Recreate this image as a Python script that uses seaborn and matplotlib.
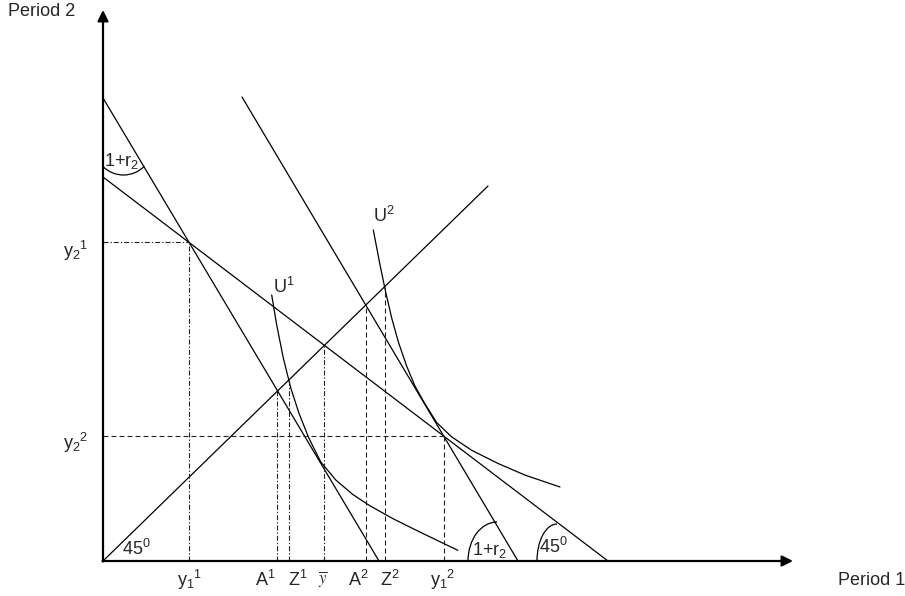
import numpy as np
import pandas as pd
import matplotlib
matplotlib.use("Agg")
import matplotlib.pyplot as plt
from matplotlib.patches import Arc
import seaborn as sns

# budget lines and the 45 degree line (x, y end points, origin at axes corner)
steep1_x = [0, 276]
steep1_y = [463, 0]
flat_x = [0, 505]
flat_y = [384, 0]
steep2_x = [139, 415]
steep2_y = [464, 0]
diag_x = [0, 385]
diag_y = [0, 375]

# indifference curves
u1_x = [168.7, 173.7, 180.3, 187.8, 195.8, 205.8, 217.8, 232.8, 249.8, 266.8, 289.8, 316.8, 354.8]
u1_y = [266, 236, 203, 173, 148.2, 123, 99, 81, 66.5, 55.3, 42.4, 29, 10.7]
u2_x = [270.3, 277, 282.7, 288.7, 295.3, 303.7, 312, 322, 333.7, 348.7, 368.7, 395.3, 422, 457]
u2_y = [331, 296.2, 268.8, 243, 219.2, 194.8, 174.9, 157, 138.4, 124.1, 110.7, 97.4, 85.9, 74]

# guide lines down to the horizontal axis
guide_x = [86, 174, 186, 221, 263, 282, 341]
guide_top = [319, 170, 181, 216, 256, 274, 125]
guide_dashdot = [True, True, True, True, False, False, False]
# guide lines across to the vertical axis
level_y = [319, 125]
level_end = [86, 341]
level_dashdot = [True, False]

x_labels = ['y$_1$$^1$', 'A$^1$', 'Z$^1$', r'$\overline{y}$', 'A$^2$', 'Z$^2$', 'y$_1$$^2$']
y_labels = ['y$_2$$^1$', 'y$_2$$^2$']

sns.set_theme(style="white")
plt.rcParams['font.family'] = ['Liberation Sans', 'DejaVu Sans']
plt.rcParams['mathtext.fontset'] = 'custom'
plt.rcParams['mathtext.rm'] = 'Liberation Sans'
plt.rcParams['mathtext.it'] = 'Liberation Sans:italic'

fig = plt.figure(figsize=(9.05, 5.96), dpi=100)
ax = fig.add_axes([0, 0, 1, 1])
ax.set_xlim(-103, 802)
ax.set_ylim(-35, 561)
ax.axis('off')

lw = 0.9
for xs, ys in [(steep1_x, steep1_y), (flat_x, flat_y), (steep2_x, steep2_y),
               (diag_x, diag_y), (u1_x, u1_y), (u2_x, u2_y)]:
    sns.lineplot(x=xs, y=ys, ax=ax, color='black', linewidth=lw,
                 sort=False, estimator=None)

dash = (0, (4.5, 2.7))
dashdot = (0, (4.5, 1.8, 1.2, 1.8))
for gx, gt, dd in zip(guide_x, guide_top, guide_dashdot):
    ax.plot([gx, gx], [0, gt], color='#222222', lw=0.8, ls=dashdot if dd else dash)
for ly, le, dd in zip(level_y, level_end, level_dashdot):
    ax.plot([0, le], [ly, ly], color='#222222', lw=0.8, ls=dashdot if dd else dash)

# axes with arrow heads
arrow = dict(arrowstyle='-|>', color='black', lw=1.6, mutation_scale=16,
             shrinkA=0, shrinkB=0)
ax.annotate('', xy=(0, 551), xytext=(0, -0.5), arrowprops=arrow)
ax.annotate('', xy=(690, 0), xytext=(-0.5, 0), arrowprops=arrow)

# angle arcs
ax.add_patch(Arc((20.5, 415), 58, 58, theta1=225, theta2=316, color='black', lw=lw))
ax.add_patch(Arc((394, 0), 58, 78, theta1=90, theta2=180, color='black', lw=lw))
ax.add_patch(Arc((454, 0), 40, 74, theta1=90, theta2=180, color='black', lw=lw))

fs = 13
ax.text(-95, 545, 'Period 2', fontsize=fs, va='baseline')
ax.text(735, -24, 'Period 1', fontsize=fs, va='baseline')

x_label_left = [74, 152, 185, 215, 245, 277, 327]
for lab, lx in zip(x_labels, x_label_left):
    if 'overline' in lab:
        ax.text(lx, -22, lab, fontsize=12, va='baseline', math_fontfamily='stix',
                color='#333333')
    else:
        ax.text(lx, -25, lab, fontsize=fs, va='baseline')

for lab, ly in zip(y_labels, [304, 112]):
    ax.text(-15, ly, lab, fontsize=fs, va='baseline', ha='right')

ax.text(170, 268, 'U$^1$', fontsize=fs, va='baseline')
ax.text(270, 339, 'U$^2$', fontsize=fs, va='baseline')
ax.text(0.5, 395, '1+r$_2$', fontsize=fs, va='baseline')
ax.text(369, 6, '1+r$_2$', fontsize=fs, va='baseline')
ax.text(19, 6, '45$^0$', fontsize=fs, va='baseline')
ax.text(436, 8, '45$^0$', fontsize=fs, va='baseline')

fig.savefig('out.png', dpi=100, facecolor='white')
